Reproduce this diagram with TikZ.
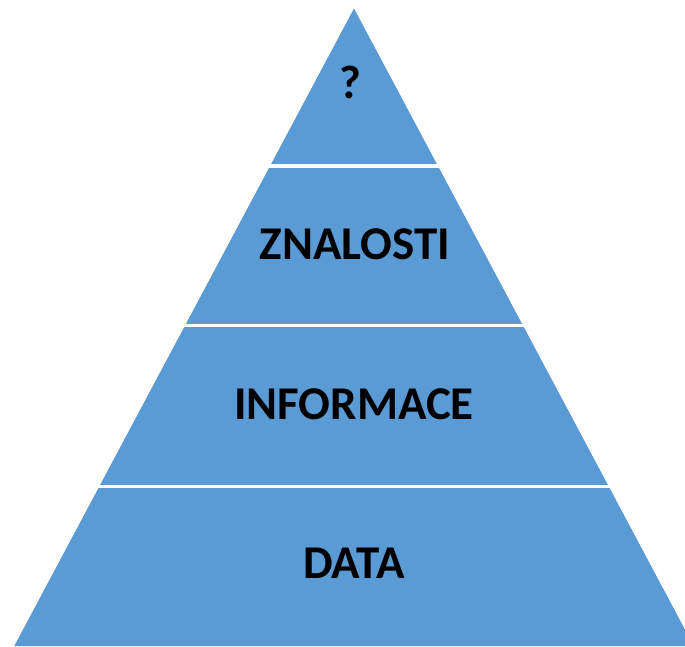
\documentclass[tikz,border=0pt]{standalone}
\usepackage{fontspec}
\setmainfont{Carlito}
\definecolor{tierblue}{HTML}{5B9BD5}
\tikzset{
  tierlabel/.style={font=\bfseries\fontsize{47}{52}\selectfont, text=black, inner sep=0pt, anchor=base},
  gapline/.style={draw=white, line width=3.8pt}
}
\begin{document}
\begin{tikzpicture}[x=1pt, y=-1pt]
  \useasboundingbox (0,0) rectangle (685,646);
  \clip (0,0) rectangle (685,646);
  % pyramid body (the right base corner runs past the page edge)
  \coordinate (apex) at (354,8);
  \coordinate (bl) at (14,646);
  \coordinate (br) at (694,646);
  \fill[tierblue] (apex) -- (br) -- (bl) -- cycle;
  % white separators between tiers
  \foreach \yy in {166,325.5,486.5}{
    \draw[gapline] (0,\yy) -- (685,\yy);
  }
  % clean margins outside the pyramid edges
  \fill[white] (apex) -- (bl) -- (-20,646) -- (-20,-5) -- (354,-5) -- cycle;
  \fill[white] (apex) -- (br) -- (715,646) -- (715,-5) -- (354,-5) -- cycle;
  % tier labels (placed by baseline)
  \node[tierlabel] (q) at (350.5,98) {?};
  \node[tierlabel] (zn) at (355,259) {ZNALOSTI};
  \node[tierlabel] (inf) at (354,419) {INFORMACE};
  \node[tierlabel] (dat) at (354,578) {DATA};
\end{tikzpicture}
\end{document}
